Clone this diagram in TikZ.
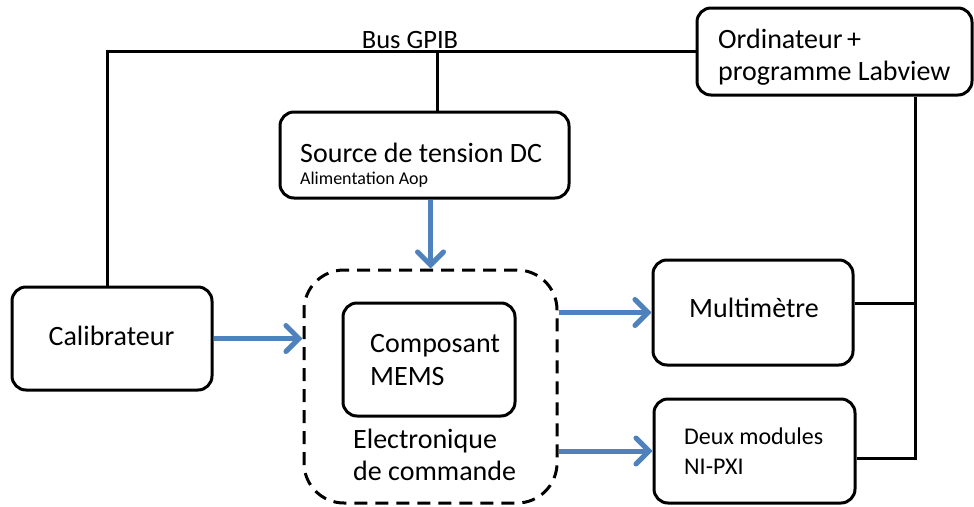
\documentclass[tikz,border=0pt]{standalone}
\usepackage{fontspec}
\setmainfont{Carlito}
\usetikzlibrary{arrows.meta}
\definecolor{flowblue}{HTML}{4F81BD}
\begin{document}
\begin{tikzpicture}[x=1pt,y=-1pt,
  box/.style={draw=black, line width=3pt, rounded corners=14pt, inner sep=0pt},
  dashbox/.style={draw=black, line width=3pt, rounded corners=40pt, inner sep=0pt, dash pattern=on 13pt off 8pt},
  wire/.style={draw=black, line width=3pt},
  flow/.style={draw=flowblue, line width=5pt, -{Straight Barb[length=13pt,width=26pt,line cap=round]}},
  big/.style={font=\fontsize{28}{32}\selectfont, inner sep=0pt, align=left},
  mid/.style={font=\fontsize{24}{30}\selectfont, inner sep=0pt, align=left},
  small/.style={font=\fontsize{18}{21}\selectfont, inner sep=0pt, align=left}]
\fill[white] (0,0) rectangle (974,506);
\useasboundingbox (0,0) rectangle (974,506);

% boxes
\node[box, minimum width=275pt, minimum height=87pt] (ord) at (834.5,51.5) {};
\node[box, minimum width=289pt, minimum height=86pt] (src) at (424.5,155) {};
\node[box, minimum width=200pt, minimum height=103pt] (cal) at (112,338.5) {};
\node[dashbox, minimum width=253pt, minimum height=233pt] (elec) at (430.5,386.5) {};
\node[box, minimum width=172pt, minimum height=113pt] (mems) at (429,359.5) {};
\node[box, minimum width=200pt, minimum height=105pt] (mul) at (753,312.5) {};
\node[box, minimum width=201pt, minimum height=104pt] (pxi) at (754.5,451) {};

% texts
\node[font=\fontsize{26.5}{30}\selectfont, inner sep=0pt, anchor=base] (bus) at (410,48) {Bus GPIB};
\node[big, anchor=base west] (tord) at (718,80) {Ordinateur\,+\\programme Labview};
\node[big, anchor=base west] (tsrc) at (300,162) {Source de tension DC};
\node[small, anchor=base west] (tsrc2) at (300,184) {Alimentation Aop};
\node[big] (tcal) at (111.5,336) {Calibrateur};
\node[big, anchor=base west, font=\fontsize{28}{33}\selectfont] (tmems) at (370,385) {Composant\\MEMS};
\node[big, anchor=base west] (telec) at (353,480) {Electronique\\de commande};
\node[big] (tmul) at (754,308) {Multimètre};
\node[mid, anchor=base west] (tpxi) at (684,474) {Deux modules\\NI-PXI};

% wires
\draw[wire] ([xshift=-5pt]cal.north) |- (ord.west);
\draw[wire] ([xshift=12.5pt]src.north) -- ([xshift=12.5pt]src.north |- ord.west);
\coordinate (rj) at ([xshift=80.5pt]ord.south);
\draw[wire] (rj) |- ([yshift=-7pt]pxi.east);
\draw[wire] ([yshift=9.5pt]mul.east) -- ([yshift=9.5pt]mul.east -| rj);

% flows
\draw[flow] (src.south -| elec.north) -- (elec.north);
\draw[flow] (cal.east) -- (cal.east -| elec.west);
\draw[flow] (mul.west -| elec.east) -- (mul.west);
\draw[flow] (pxi.west -| elec.east) -- (pxi.west);
\end{tikzpicture}
\end{document}
